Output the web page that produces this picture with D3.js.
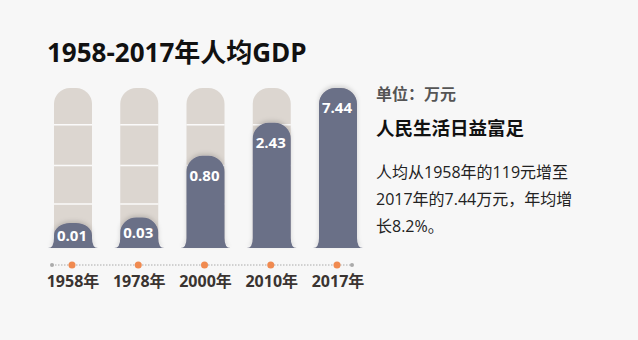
<!DOCTYPE html>
<html><head><meta charset="utf-8">
<script src="https://cdn.jsdelivr.net/npm/d3@7"></script>
<style>
html,body{margin:0;padding:0;background:#f7f7f7;}
svg{display:block;}
text{font-family:"Open Sans","Noto Sans CJK SC",sans-serif;}
</style></head>
<body>
<svg id="c" width="638" height="340"></svg>
<script>
const categories = ["1958年", "1978年", "2000年", "2010年", "2017年"];
const values = [0.01, 0.03, 0.80, 2.43, 7.44];
const valueLabels = ["0.01", "0.03", "0.80", "2.43", "7.44"];
const gridFractions = [0.275, 0.515, 0.77];
const title = "1958-2017年人均GDP";
const unitText = "单位：万元";
const headline = "人民生活日益富足";
const bodyLines = ["人均从1958年的119元增至", "2017年的7.44万元，年均增", "长8.2%。"];

(function () {
const svg = d3.select("#c");
svg.append("rect").attr("width", 638).attr("height", 340).attr("fill", "#f7f7f7");

const defs = svg.append("defs");
const f = defs.append("filter").attr("id", "sh").attr("x", "-30%").attr("y", "-30%").attr("width", "160%").attr("height", "160%");
f.append("feDropShadow").attr("dx", 0).attr("dy", -2).attr("stdDeviation", 2).attr("flood-color", "#000").attr("flood-opacity", 0.15);

const yTop = 88, yBottom = 248, barW = 38, r = 16;
const x = d3.scalePoint().domain(categories).range([73, 338]);
const y = d3.scaleSymlog().constant(0.1).domain([0, d3.max(values)]).range([yBottom - 22, yTop]);

svg.append("text").attr("x", 47).attr("y", 62).attr("font-size", 26).attr("font-weight", 700)
  .attr("fill", "#111").text(title);

// tracks
const g = svg.append("g");
categories.forEach((c, i) => {
  const cx = x(c), x0 = cx - barW / 2, x1 = cx + barW / 2;
  g.append("path").attr("fill", "#dcd6d0")
    .attr("d", `M${x0},${yBottom} L${x0},${yTop + r} A${r},${r} 0 0 1 ${x0 + r},${yTop} L${x1 - r},${yTop} A${r},${r} 0 0 1 ${x1},${yTop + r} L${x1},${yBottom} Z`);
  gridFractions.forEach(fr => {
    const gy = yBottom - fr * (yBottom - yTop);
    g.append("line").attr("x1", x0).attr("x2", x1).attr("y1", gy).attr("y2", gy)
      .attr("stroke", "#fff").attr("stroke-width", 1.5).attr("opacity", 0.9);
  });
});

// value bars
categories.forEach((c, i) => {
  const cx = x(c), x0 = cx - barW / 2, x1 = cx + barW / 2;
  const yt = y(values[i]);
  const h = yBottom - yt;
  const rr = Math.min(r, h / 2);
  const fl = 6, fh = 10;
  const d = `M${x0 - fl},${yBottom} Q${x0},${yBottom} ${x0},${yBottom - fh} L${x0},${yt + rr} A${r},${rr} 0 0 1 ${x0 + r},${yt} L${x1 - r},${yt} A${r},${rr} 0 0 1 ${x1},${yt + rr} L${x1},${yBottom - fh} Q${x1},${yBottom} ${x1 + fl},${yBottom} Z`;
  svg.append("path").attr("d", d).attr("fill", "#6b6f87").attr("filter", "url(#sh)");
  const ty = Math.min(yt + 20, (yt + yBottom) / 2);
  svg.append("text").attr("x", cx - 1).attr("y", ty).attr("dy", "0.36em")
    .attr("text-anchor", "middle").attr("font-size", 15).attr("font-weight", 700)
    .attr("fill", "#fff").text(valueLabels[i]);
});

// axis
const ay = 265;
svg.append("line").attr("x1", 52).attr("x2", 352).attr("y1", ay).attr("y2", ay)
  .attr("stroke", "#aaa").attr("stroke-width", 1).attr("stroke-dasharray", "1.5,1.5");
[52, 352].forEach(px => svg.append("circle").attr("cx", px).attr("cy", ay).attr("r", 2).attr("fill", "#aaa"));
categories.forEach(c => {
  svg.append("circle").attr("cx", x(c) - 1).attr("cy", ay).attr("r", 3.5).attr("fill", "#f08a50");
  svg.append("text").attr("x", x(c)).attr("y", 287).attr("text-anchor", "middle")
    .attr("font-size", 16).attr("font-weight", 700).attr("fill", "#3a3431").text(c);
});

// right text
svg.append("text").attr("x", 376).attr("y", 100).attr("font-size", 16).attr("font-weight", 700)
  .attr("fill", "#555").text(unitText);
svg.append("text").attr("x", 376).attr("y", 135).attr("font-size", 18.5).attr("font-weight", 700)
  .attr("fill", "#111").text(headline);
bodyLines.forEach((t, i) => {
  svg.append("text").attr("x", 376).attr("y", 178 + i * 27).attr("font-size", 16)
    .attr("fill", "#222").text(t);
});
})();
</script>
</body></html>
